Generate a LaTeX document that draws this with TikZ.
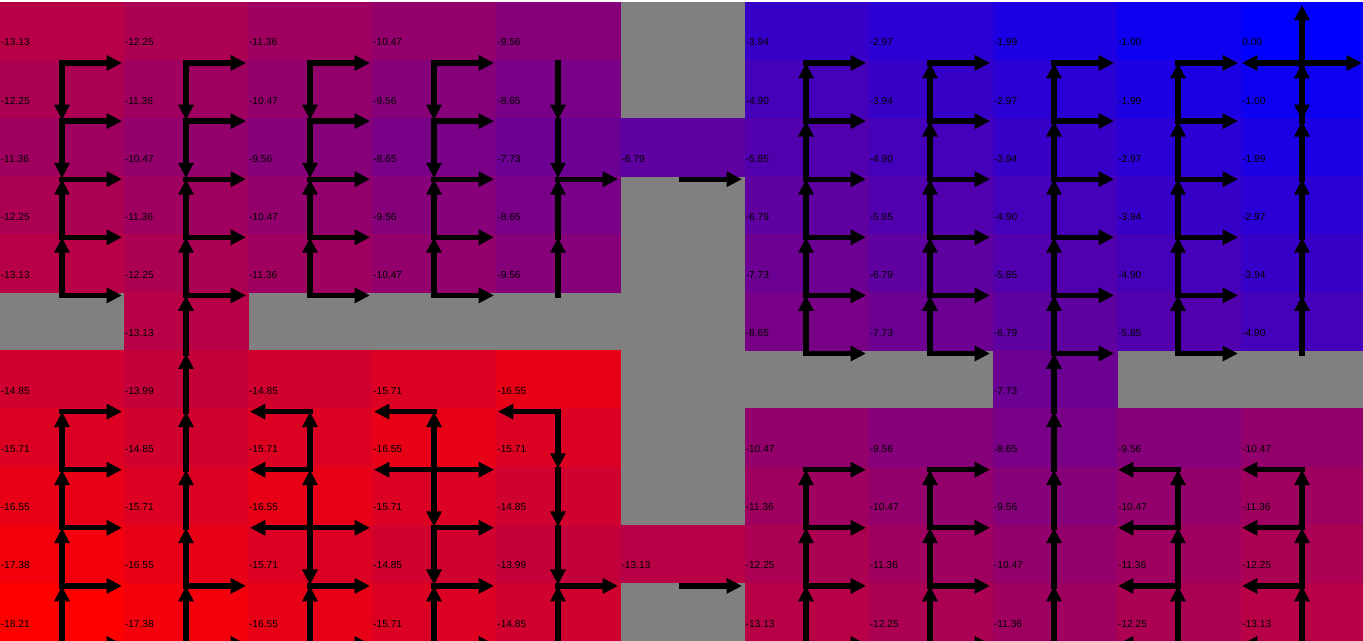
\documentclass[tikz,border=0pt]{standalone}
\usepackage{fontspec}
\setmainfont{Liberation Sans}
\usetikzlibrary{arrows.meta}
\begin{document}
\def\vals{0/0/-13.13,0/1/-12.25,0/2/-11.36,0/3/-10.47,0/4/-9.56,0/6/-3.94,0/7/-2.97,0/8/-1.99,0/9/-1.00,0/10/0.00,
1/0/-12.25,1/1/-11.36,1/2/-10.47,1/3/-9.56,1/4/-8.65,1/6/-4.90,1/7/-3.94,1/8/-2.97,1/9/-1.99,1/10/-1.00,
2/0/-11.36,2/1/-10.47,2/2/-9.56,2/3/-8.65,2/4/-7.73,2/5/-6.79,2/6/-5.85,2/7/-4.90,2/8/-3.94,2/9/-2.97,2/10/-1.99,
3/0/-12.25,3/1/-11.36,3/2/-10.47,3/3/-9.56,3/4/-8.65,3/6/-6.79,3/7/-5.85,3/8/-4.90,3/9/-3.94,3/10/-2.97,
4/0/-13.13,4/1/-12.25,4/2/-11.36,4/3/-10.47,4/4/-9.56,4/6/-7.73,4/7/-6.79,4/8/-5.85,4/9/-4.90,4/10/-3.94,
5/1/-13.13,5/6/-8.65,5/7/-7.73,5/8/-6.79,5/9/-5.85,5/10/-4.90,
6/0/-14.85,6/1/-13.99,6/2/-14.85,6/3/-15.71,6/4/-16.55,6/8/-7.73,
7/0/-15.71,7/1/-14.85,7/2/-15.71,7/3/-16.55,7/4/-15.71,7/6/-10.47,7/7/-9.56,7/8/-8.65,7/9/-9.56,7/10/-10.47,
8/0/-16.55,8/1/-15.71,8/2/-16.55,8/3/-15.71,8/4/-14.85,8/6/-11.36,8/7/-10.47,8/8/-9.56,8/9/-10.47,8/10/-11.36,
9/0/-17.38,9/1/-16.55,9/2/-15.71,9/3/-14.85,9/4/-13.99,9/5/-13.13,9/6/-12.25,9/7/-11.36,9/8/-10.47,9/9/-11.36,9/10/-12.25,
10/0/-18.21,10/1/-17.38,10/2/-16.55,10/3/-15.71,10/4/-14.85,10/6/-13.13,10/7/-12.25,10/8/-11.36,10/9/-12.25,10/10/-13.13}
\def\arrs{0/0/{R,D},0/1/{R,D},0/2/{R,D},0/3/{R,D},0/4/{D},0/6/{R},0/7/{R},0/8/{R},0/9/{R},0/10/{U,D,L,R},
1/0/{R,D},1/1/{R,D},1/2/{R,D},1/3/{R,D},1/4/{D},1/6/{U,R},1/7/{U,R},1/8/{U,R},1/9/{U,R},1/10/{U},
2/0/{R},2/1/{R},2/2/{R},2/3/{R},2/4/{R},2/5/{R},2/6/{U,R},2/7/{U,R},2/8/{U,R},2/9/{U,R},2/10/{U},
3/0/{U,R},3/1/{U,R},3/2/{U,R},3/3/{U,R},3/4/{U},3/6/{U,R},3/7/{U,R},3/8/{U,R},3/9/{U,R},3/10/{U},
4/0/{U,R},4/1/{U,R},4/2/{U,R},4/3/{U,R},4/4/{U},4/6/{U,R},4/7/{U,R},4/8/{U,R},4/9/{U,R},4/10/{U},
5/1/{U},5/6/{U,R},5/7/{U,R},5/8/{U,R},5/9/{U,R},5/10/{U},
6/0/{R},6/1/{U},6/2/{L},6/3/{L},6/4/{L,D},6/8/{U},
7/0/{U,R},7/1/{U},7/2/{U,L},7/3/{U,D,L,R},7/4/{D},7/6/{R},7/7/{R},7/8/{U},7/9/{L},7/10/{L},
8/0/{U,R},8/1/{U},8/2/{U,D,L,R},8/3/{R,D},8/4/{D},8/6/{U,R},8/7/{U,R},8/8/{U},8/9/{U,L},8/10/{U,L},
9/0/{U,R},9/1/{U,R},9/2/{R},9/3/{R},9/4/{R},9/5/{R},9/6/{U,R},9/7/{U,R},9/8/{U},9/9/{U,L},9/10/{U,L},
10/0/{U,R},10/1/{U,R},10/2/{U,R},10/3/{U,R},10/4/{U},10/6/{U,R},10/7/{U,R},10/8/{U},10/9/{U,L},10/10/{U,L}}
\begin{tikzpicture}[x=0.75pt,y=-0.75pt,
  arr/.style={line width=3.9pt, line cap=rect, -{Triangle[length=11.5pt,width=11pt]}},
  lab/.style={anchor=base west, inner sep=0pt, font=\fontsize{7.65}{9}\selectfont}]
\useasboundingbox (0,0) rectangle (1363,641);
\clip (0,0) rectangle (1363,641);
\fill[white] (0,0) rectangle (1363,641);
\fill[gray] (0,2) rectangle (1363,641);
\foreach \r/\c/\v in \vals {
  \pgfmathsetmacro\p{abs(100*\v/18.21)}
  \colorlet{cc}{red!\p!blue}
  \fill[cc] ({124.15*\c-0.3},{2+58.1*\r-0.3}) rectangle ({124.15*(\c+1)+0.3},{2+58.1*(\r+1)+0.3});
}
\foreach \r/\c/\v in \vals {
  \node[lab] (t-\r-\c) at ({124.15*\c+0.5},{46+58.1*\r}) {\v};
}
\foreach \r/\c/\ds in \arrs {
  \coordinate (o-\r-\c) at ({62+124*\c},{63+58.1*\r});
  \foreach \d in \ds {
    \if\d R\gdef\dx{60}\gdef\dy{0}\fi
    \if\d L\gdef\dx{-60}\gdef\dy{0}\fi
    \if\d U\gdef\dx{0}\gdef\dy{-58}\fi
    \if\d D\gdef\dx{0}\gdef\dy{57}\fi
    \draw[arr] (o-\r-\c) -- ++(\dx,\dy);
  }
}
\end{tikzpicture}
\end{document}
